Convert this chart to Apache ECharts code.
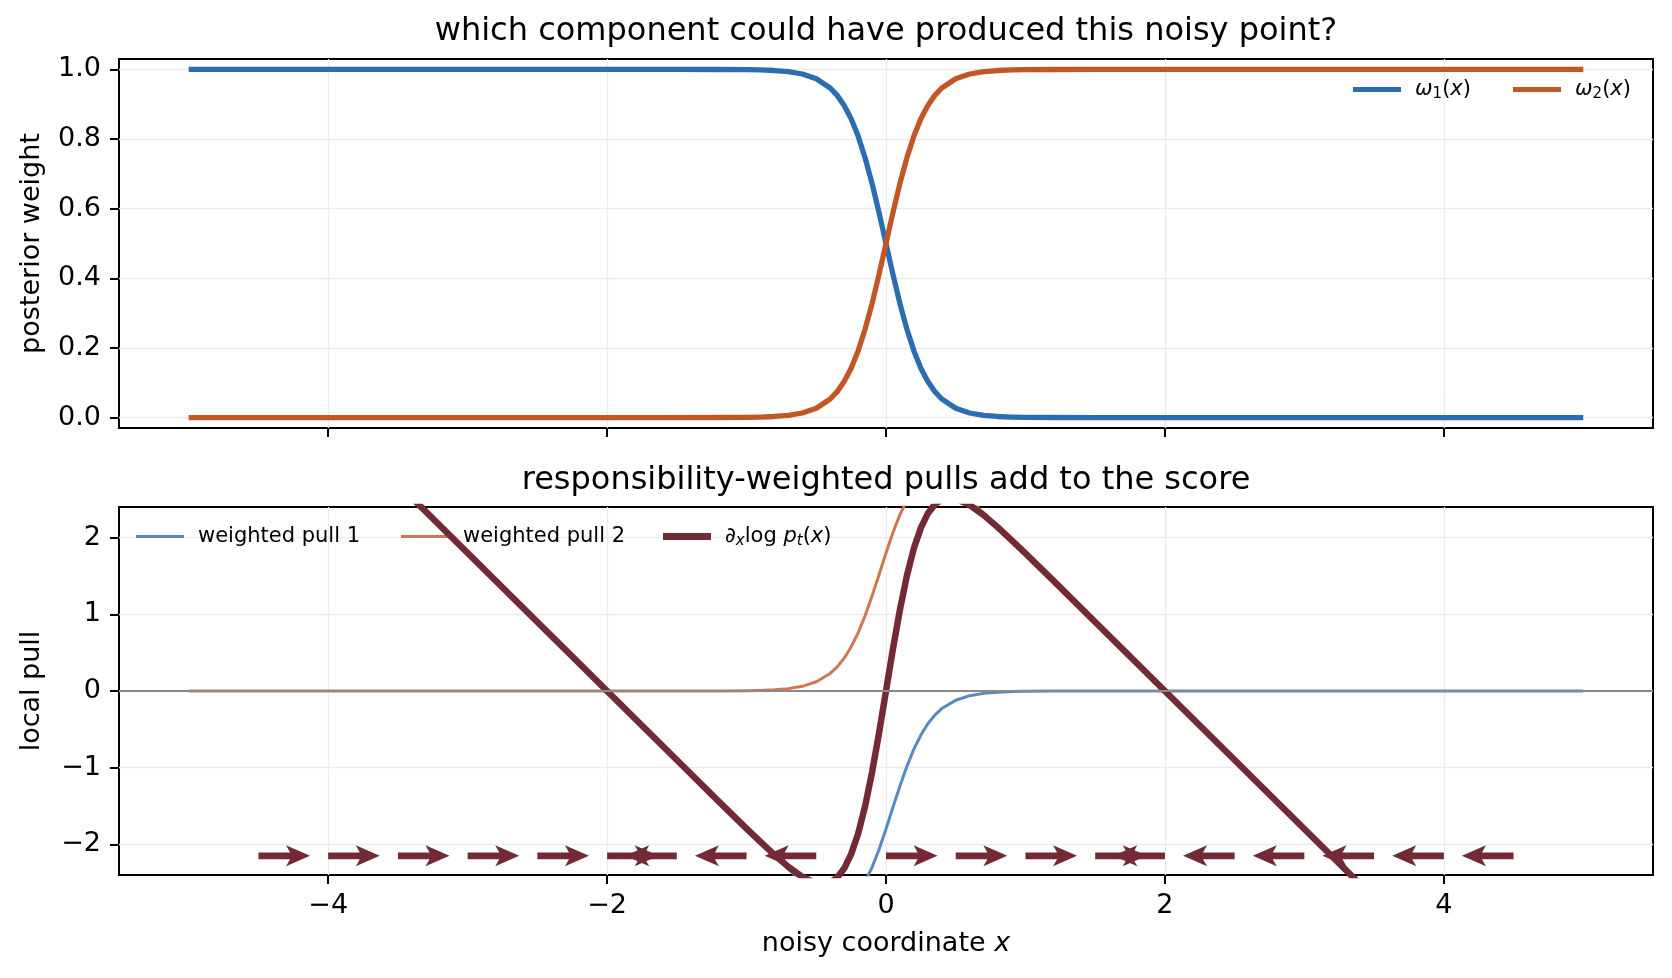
<!DOCTYPE html>
<html>
<head>
<meta charset="utf-8" />
<script src="https://cdn.jsdelivr.net/npm/echarts@6/dist/echarts.min.js"></script>
<style>
  html, body, #main { width: 100%; height: 100%; margin: 0; padding: 0; overflow: hidden; background: #fff; }
</style>
</head>
<body>
<div id="main"></div>
<script>
// shared x samples for every curve
var xs = [-5, -1.5, -1.2, -1.0, -0.9, -0.8, -0.7, -0.6, -0.5, -0.4, -0.35, -0.3, -0.25, -0.2, -0.15, -0.1, -0.05,
          0, 0.05, 0.1, 0.15, 0.2, 0.25, 0.3, 0.35, 0.4, 0.5, 0.6, 0.7, 0.8, 0.9, 1.0, 1.2, 1.5, 5];
// posterior weights
var omega1 = [1, 1, 0.9998, 0.9993, 0.9985, 0.9969, 0.9936, 0.9869, 0.9734, 0.9468, 0.9255, 0.8966, 0.8581, 0.8085, 0.7465, 0.6726, 0.5890,
              0.5, 0.4110, 0.3274, 0.2535, 0.1915, 0.1419, 0.1034, 0.0745, 0.0532, 0.0266, 0.0131, 0.0064, 0.0031, 0.0015, 0.0007, 0.0002, 0, 0];
var omega2 = [0, 0, 0.0002, 0.0007, 0.0015, 0.0031, 0.0064, 0.0131, 0.0266, 0.0532, 0.0745, 0.1034, 0.1419, 0.1915, 0.2535, 0.3274, 0.4110,
              0.5, 0.5890, 0.6726, 0.7465, 0.8085, 0.8581, 0.8966, 0.9255, 0.9468, 0.9734, 0.9869, 0.9936, 0.9969, 0.9985, 0.9993, 0.9998, 1, 1];
// weighted pulls and the score
var pull1 = [5.4, -0.9, -1.440, -1.799, -1.977, -2.153, -2.325, -2.487, -2.628, -2.727, -2.749, -2.744, -2.703, -2.620, -2.486, -2.300, -2.067,
             -1.800, -1.517, -1.238, -0.981, -0.758, -0.575, -0.428, -0.315, -0.229, -0.120, -0.061, -0.031, -0.016, -0.008, -0.004, -0.001, 0, 0];
var pull2 = [0, 0, 0.001, 0.004, 0.008, 0.016, 0.031, 0.061, 0.120, 0.229, 0.315, 0.428, 0.575, 0.758, 0.981, 1.238, 1.517,
             1.800, 2.067, 2.300, 2.486, 2.620, 2.703, 2.744, 2.749, 2.727, 2.628, 2.487, 2.325, 2.153, 1.977, 1.799, 1.440, 0.9, -5.4];
var score = [5.4, -0.9, -1.439, -1.795, -1.969, -2.137, -2.294, -2.426, -2.508, -2.498, -2.434, -2.316, -2.128, -1.862, -1.505, -1.062, -0.550,
             0, 0.550, 1.062, 1.505, 1.862, 2.128, 2.316, 2.434, 2.498, 2.508, 2.426, 2.294, 2.137, 1.969, 1.795, 1.439, 0.9, -5.4];
// arrow row: tail positions and direction of the score there
var arrowX = [-4.5, -4, -3.5, -3, -2.5, -2, -1.5, -1, -0.5, 0, 0.5, 1, 1.5, 2, 2.5, 3, 3.5, 4, 4.5];
var arrowDir = [1, 1, 1, 1, 1, 1, -1, -1, -1, 1, 1, 1, 1, -1, -1, -1, -1, -1, -1];
var arrowRowY = -2.15;
var arrowLength = 0.37;
// ticks
var xTicks = [-4, -2, 0, 2, 4];
var topYTicks = [0, 0.2, 0.4, 0.6, 0.8, 1.0];
var bottomYTicks = [-2, -1, 0, 1, 2];

var FONT = 'DejaVu Sans';
var BLUE = '#2c6cb0', ORANGE = '#c15725', MAROON = '#722b36';
var BLUE_LIGHT = '#5689c0', ORANGE_LIGHT = '#cd7851';

function pairs(ys) { return xs.map(function (x, i) { return [x, ys[i]]; }); }
function minus(v) { return (v < 0 ? '\u2212' : '') + Math.abs(v); }

var legendRich = {
  sp: { width: 9 },
  n: { fontFamily: FONT, fontSize: 21, color: '#000', lineHeight: 24 },
  m: { fontFamily: FONT, fontSize: 21, fontStyle: 'italic', color: '#000', lineHeight: 24 },
  s: { fontFamily: FONT, fontSize: 15, color: '#000', verticalAlign: 'bottom', lineHeight: 14 },
  si: { fontFamily: FONT, fontSize: 15, fontStyle: 'italic', color: '#000', verticalAlign: 'bottom', lineHeight: 14 }
};
var legendText = {
  w1: '{sp| }{m|ω}{s|1}{n|(}{m|x}{n|)}',
  w2: '{sp| }{m|ω}{s|2}{n|(}{m|x}{n|)}',
  p1: '{sp| }{n|weighted pull 1}',
  p2: '{sp| }{n|weighted pull 2}',
  sc: '{sp| }{m|∂}{si|x}{n|log }{m|p}{si|t}{n|(}{m|x}{n|)}'
};
function legendAt(name, left, top, thick, color) {
  return {
    data: [{ name: name, icon: 'rect', itemStyle: { color: color } }],
    left: left, top: top, padding: 0, itemWidth: 48, itemHeight: thick,
    selectedMode: false,
    formatter: function (nm) { return legendText[nm]; },
    textStyle: { rich: legendRich }
  };
}

var chart = echarts.init(document.getElementById('main'), null, { renderer: 'canvas' });

var tickStyle = { show: true, length: 9, lineStyle: { color: '#000', width: 2 } };
var gridLine = { show: true, lineStyle: { color: '#ebebeb', width: 1.3 } };
var labelStyle = { color: '#000', fontFamily: FONT, fontSize: 27 };
var noLine = { show: false, onZero: false };

var option = {
  animation: false,
  backgroundColor: '#fff',
  textStyle: { fontFamily: FONT },
  grid: [
    { left: 119, right: 19, top: 59, bottom: 550, show: true, borderColor: '#000', borderWidth: 2, backgroundColor: 'transparent' },
    { left: 119, right: 19, top: 507, bottom: 103, show: true, borderColor: '#000', borderWidth: 2, backgroundColor: 'transparent' }
  ],
  graphic: [
    { type: 'text', x: 886, y: 32, style: { text: 'which component could have produced this noisy point?', font: '32px "DejaVu Sans"', fill: '#000', align: 'center', verticalAlign: 'middle' } },
    { type: 'text', x: 886, y: 481, style: { text: 'responsibility-weighted pulls add to the score', font: '32px "DejaVu Sans"', fill: '#000', align: 'center', verticalAlign: 'middle' } }
  ],
  legend: [
    legendAt('w1', 1353, 79, 5, BLUE),
    legendAt('w2', 1513, 79, 5, ORANGE),
    legendAt('p1', 136, 526, 3, BLUE_LIGHT),
    legendAt('p2', 401, 526, 3, ORANGE_LIGHT),
    legendAt('sc', 663, 526, 7, MAROON)
  ],
  xAxis: [
    { type: 'value', gridIndex: 0, min: -5.5, max: 5.5, axisLine: noLine,
      axisTick: Object.assign({ customValues: xTicks }, tickStyle),
      axisLabel: { show: false, customValues: xTicks }, splitLine: gridLine },
    { type: 'value', gridIndex: 1, min: -5.5, max: 5.5, axisLine: noLine,
      axisTick: Object.assign({ customValues: xTicks }, tickStyle),
      axisLabel: Object.assign({ customValues: xTicks, margin: 17, formatter: minus }, labelStyle),
      splitLine: gridLine,
      name: '{n|noisy coordinate }{m|x}', nameLocation: 'middle', nameGap: 55,
      nameTextStyle: { rich: {
        n: { fontFamily: FONT, fontSize: 27, color: '#000' },
        m: { fontFamily: FONT, fontSize: 27, fontStyle: 'italic', color: '#000' } } } }
  ],
  yAxis: [
    { type: 'value', gridIndex: 0, min: -0.03, max: 1.03, axisLine: noLine,
      axisTick: Object.assign({ customValues: topYTicks }, tickStyle),
      axisLabel: Object.assign({ customValues: topYTicks, margin: 18, formatter: function (v) { return v.toFixed(1); } }, labelStyle),
      splitLine: gridLine,
      name: 'posterior weight', nameLocation: 'middle', nameGap: 74, nameRotate: 90,
      nameTextStyle: { color: '#000', fontFamily: FONT, fontSize: 27 } },
    { type: 'value', gridIndex: 1, min: -2.4, max: 2.4, axisLine: noLine,
      axisTick: Object.assign({ customValues: bottomYTicks }, tickStyle),
      axisLabel: Object.assign({ customValues: bottomYTicks, margin: 18, formatter: minus }, labelStyle),
      splitLine: gridLine,
      name: 'local pull', nameLocation: 'middle', nameGap: 74, nameRotate: 90,
      nameTextStyle: { color: '#000', fontFamily: FONT, fontSize: 27 } }
  ],
  series: [
    { name: 'w1', type: 'line', xAxisIndex: 0, yAxisIndex: 0, data: pairs(omega1), symbol: 'none',
      color: BLUE, lineStyle: { color: BLUE, width: 5.3, join: 'round' }, z: 3 },
    { name: 'w2', type: 'line', xAxisIndex: 0, yAxisIndex: 0, data: pairs(omega2), symbol: 'none',
      color: ORANGE, lineStyle: { color: ORANGE, width: 5.3, join: 'round' }, z: 3 },
    { name: 'zero', type: 'line', xAxisIndex: 1, yAxisIndex: 1, data: [], symbol: 'none', z: 2,
      markLine: { silent: true, symbol: 'none', label: { show: false },
        lineStyle: { color: '#8a8a8a', width: 2.2, type: 'solid' }, data: [{ yAxis: 0 }] } },
    { name: 'p1', type: 'line', xAxisIndex: 1, yAxisIndex: 1, data: pairs(pull1), symbol: 'none',
      color: BLUE_LIGHT, lineStyle: { color: BLUE_LIGHT, width: 3, join: 'round' }, z: 3 },
    { name: 'p2', type: 'line', xAxisIndex: 1, yAxisIndex: 1, data: pairs(pull2), symbol: 'none',
      color: ORANGE_LIGHT, lineStyle: { color: ORANGE_LIGHT, width: 3, join: 'round' }, z: 3 },
    { name: 'sc', type: 'line', xAxisIndex: 1, yAxisIndex: 1, data: pairs(score), symbol: 'none',
      color: MAROON, lineStyle: { color: MAROON, width: 6.5, join: 'round' }, z: 4 },
    { name: 'arrows', type: 'custom', xAxisIndex: 1, yAxisIndex: 1, z: 5, silent: true,
      data: arrowX.map(function (x, i) { return [x, arrowRowY, arrowDir[i]]; }),
      encode: { x: 0, y: 1 },
      renderItem: function (params, api) {
        var x = api.value(0), y = api.value(1), d = api.value(2);
        var t = api.coord([x, y]);
        var h = api.coord([x + d * arrowLength, y]);
        var s = d > 0 ? 1 : -1;
        var w = 3.4, hw = 10.5, hl = 24, ha = 20;
        var cy = t[1];
        var pts = [
          [t[0], cy - w], [h[0] - s * ha, cy - w], [h[0] - s * hl, cy - hw], [h[0], cy],
          [h[0] - s * hl, cy + hw], [h[0] - s * ha, cy + w], [t[0], cy + w]
        ];
        return { type: 'polygon', shape: { points: pts }, style: { fill: MAROON } };
      } }
  ]
};

chart.setOption(option);
window.addEventListener('resize', function () { chart.resize(); });
</script>
</body>
</html>
